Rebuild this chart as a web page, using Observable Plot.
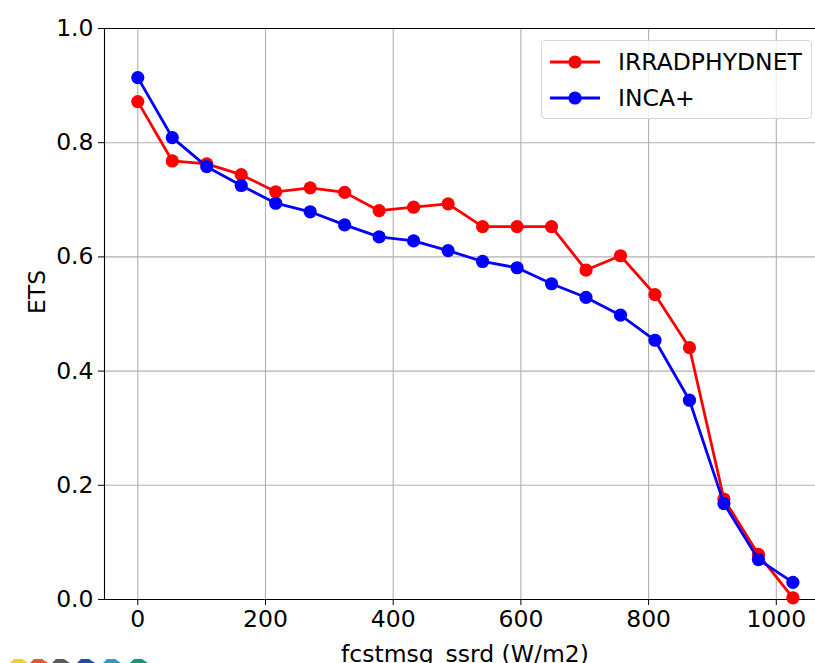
<!DOCTYPE html>
<html>
<head>
<meta charset="utf-8">
<script src="https://cdn.jsdelivr.net/npm/d3@7"></script>
<script src="https://cdn.jsdelivr.net/npm/@observablehq/plot@0.6"></script>
<style>
  html, body { margin: 0; padding: 0; background: white; }
  #wrap { position: relative; width: 815px; height: 663px; overflow: hidden; font-family: "DejaVu Sans", sans-serif; }
  #legend { position: absolute; left: 541px; top: 40px; width: 271px; height: 79px; box-sizing: border-box;
            border: 1px solid #d6d6d6; border-radius: 4px; background: rgba(255,255,255,0.8); }
  .row { position: absolute; left: 0; height: 30px; display: flex; align-items: center; }
  .row svg { margin-left: 7px; }
  .row span { margin-left: 17px; font-size: 23.5px; color: #000; }
  #logo { position: absolute; left: 0; top: 655px; }
</style>
</head>
<body>
<div id="wrap">
  <div id="chart"></div>
  <div id="legend"></div>
  <svg id="logo" width="160" height="8"></svg>
</div>
<script>
const xValues = [0, 54, 108, 162, 216, 270, 324, 378, 432, 486, 540, 594, 648, 702, 756, 810, 864, 918, 972, 1026];
const seriesNames = ["IRRADPHYDNET", "INCA+"];
const seriesColors = ["#ff0000", "#0000ff"];
const irradphydnet = [0.872, 0.768, 0.763, 0.744, 0.714, 0.721, 0.713, 0.681, 0.687, 0.693, 0.653, 0.653, 0.653, 0.577, 0.602, 0.534, 0.441, 0.176, 0.079, 0.003];
const incaPlus    = [0.914, 0.809, 0.758, 0.725, 0.694, 0.679, 0.656, 0.635, 0.628, 0.611, 0.592, 0.581, 0.553, 0.529, 0.498, 0.454, 0.349, 0.168, 0.070, 0.030];
const xTicks = [0, 200, 400, 600, 800, 1000];
const yTicks = [0.0, 0.2, 0.4, 0.6, 0.8, 1.0];
const xLabel = "fcstmsg_ssrd (W/m2)";
const yLabel = "ETS";

const xDomain = [-52.15, 1061.4];
const yDomain = [0, 1];

const table = [];
[irradphydnet, incaPlus].forEach((vals, s) => {
  vals.forEach((v, i) => table.push({x: xValues[i], y: v, series: seriesNames[s]}));
});
const sRed = table.filter(d => d.series === seriesNames[0]);
const sBlue = table.filter(d => d.series === seriesNames[1]);

const gridStyle = {stroke: "#b0b0b0", strokeOpacity: 1, strokeWidth: 1.1};
const FS = 23.5;

const chart = Plot.plot({
  width: 815,
  height: 663,
  marginLeft: 104,
  marginRight: 0,
  marginTop: 28,
  marginBottom: 64,
  style: {fontFamily: "DejaVu Sans, sans-serif", fontSize: FS + "px", background: "white", color: "#000"},
  x: {domain: xDomain},
  y: {domain: yDomain},
  marks: [
    Plot.gridX(xTicks, gridStyle),
    Plot.gridY(yTicks, gridStyle),
    Plot.ruleX([xDomain[0]], {stroke: "#000", strokeWidth: 1.1}),
    Plot.ruleY(yDomain, {stroke: "#000", strokeWidth: 1.1}),
    Plot.axisX({ticks: xTicks, tickSize: 6, tickPadding: 5, fontSize: FS, label: null, tickFormat: d => String(d), stroke: "#000"}),
    Plot.axisY({ticks: yTicks, tickSize: 6, tickPadding: 5, fontSize: FS, label: null, tickFormat: d3.format(".1f"), stroke: "#000"}),
    Plot.line(sRed, {x: "x", y: "y", stroke: seriesColors[0], strokeWidth: 2.8}),
    Plot.dot(sRed, {x: "x", y: "y", fill: seriesColors[0], r: 6.6}),
    Plot.line(sBlue, {x: "x", y: "y", stroke: seriesColors[1], strokeWidth: 2.8}),
    Plot.dot(sBlue, {x: "x", y: "y", fill: seriesColors[1], r: 6.6}),
    Plot.text([xLabel], {frameAnchor: "bottom", dx: 5, dy: 55, lineAnchor: "middle", fontSize: FS, fill: "#000"}),
    Plot.text([yLabel], {frameAnchor: "left", dx: -67, rotate: -90, lineAnchor: "middle", fontSize: FS, fill: "#000"})
  ]
});
document.getElementById("chart").appendChild(chart);

// Legend
const legend = document.getElementById("legend");
seriesNames.forEach((name, i) => {
  const row = document.createElement("div");
  row.className = "row";
  row.style.top = (i === 0 ? 5.5 : 42) + "px";
  row.innerHTML = `<svg width="52" height="20"><line x1="1" y1="10" x2="51" y2="10" stroke="${seriesColors[i]}" stroke-width="2.8"/><circle cx="26" cy="10" r="6.6" fill="${seriesColors[i]}"/></svg><span>${name}</span>`;
  legend.appendChild(row);
});

// Partial logo at bottom-left (decorative)
const logoColors = ["#f2cc30", "#e2572b", "#5a5a5a", "#1d4f9a", "#2a9ad8", "#13997a"];
const logoX = [10, 30, 52, 77, 103, 130];
const logo = document.getElementById("logo");
logoColors.forEach((c, i) => {
  const x = logoX[i];
  const p = document.createElementNS("http://www.w3.org/2000/svg", "polygon");
  p.setAttribute("points", `${x},8 ${x+4},4 ${x+12},4 ${x+18},8`);
  p.setAttribute("fill", c);
  logo.appendChild(p);
});
</script>
</body>
</html>
